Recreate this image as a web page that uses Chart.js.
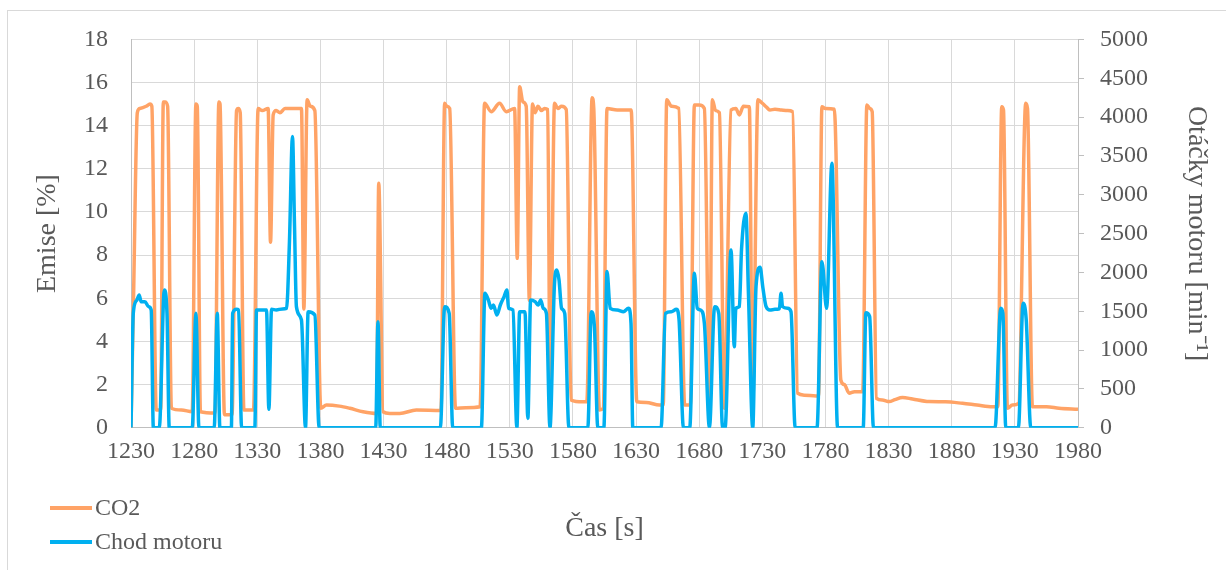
<!DOCTYPE html>
<html>
<head>
<meta charset="utf-8">
<script src="https://cdn.jsdelivr.net/npm/chart.js@4/dist/chart.umd.min.js"></script>
<style>
  body { margin: 0; background: #fff; }
  #wrap { position: relative; width: 1226px; height: 570px; }
  #frame { position: absolute; left: 7px; top: 10px; width: 1230px; height: 570px; border: 1px solid #d9d9d9; box-sizing: border-box; }
  canvas { position: absolute; left: 0; top: 0; }
</style>
</head>
<body>
<div id="wrap">
  <div id="frame"></div>
  <canvas id="chart" width="1226" height="570"></canvas>
</div>
<script>
// time axis labels [s]
const xTicks = [1230, 1280, 1330, 1380, 1430, 1480, 1530, 1580, 1630, 1680, 1730, 1780, 1830, 1880, 1930, 1980];

// CO2 emissions [%]
const co2Times = [
  1230, 1232, 1235, 1237, 1242, 1245, 1246.5, 1250, 1253.5, 1255.6, 1257, 1259, 1262, 1270, 1278.5,
  1281.4, 1282.5, 1285, 1296.5, 1299.6, 1300.5, 1304, 1310, 1313.6, 1315, 1316.5, 1319.4, 1327, 1330.7,
  1334, 1338.6, 1340.5, 1342.6, 1345, 1348, 1352, 1358, 1365, 1366.9, 1369.5, 1372, 1375.6, 1380.3,
  1384.8, 1395, 1403.3, 1413.8, 1424.5, 1426.2, 1429.6, 1435, 1442.8, 1456, 1475.5, 1478.4, 1480, 1482.4,
  1487, 1495, 1506.5, 1510, 1515.3, 1521.9, 1527.2, 1533.8, 1535.9, 1537.8, 1540.4, 1543, 1545.5, 1548,
  1550, 1552.3, 1555, 1557.5, 1560, 1562, 1565.4, 1568, 1571, 1574.7, 1578.6, 1587.8, 1591, 1595.2,
  1596.5, 1601, 1604, 1607, 1615, 1626.1, 1630.6, 1638, 1648.5, 1651.5, 1654.3, 1658, 1663.8, 1668.5,
  1673, 1676.2, 1680, 1684.1, 1688.3, 1690.4, 1693, 1696, 1700, 1705.2, 1709, 1711.8, 1715, 1719.7,
  1722.3, 1726.5, 1730, 1733, 1736, 1740, 1745, 1750, 1754, 1757.9, 1763.2, 1772.5, 1774.5, 1777.2,
  1780, 1787, 1792.2, 1794.9, 1798.8, 1803, 1809.5, 1812.8, 1815, 1817, 1820.4, 1825, 1830.5, 1835,
  1841, 1848.9, 1862, 1875, 1888.5, 1900, 1912.2, 1916.5, 1919.6, 1921, 1924.1, 1928, 1933, 1938.6,
  1940, 1943.9, 1955, 1965, 1980
];
const co2Values = [
  0, 6, 14.6, 14.8, 14.9, 15.0, 14.9, 0.82, 0.82, 15.1, 15.1, 14.9, 0.9, 0.82, 0.74,
  15.0, 14.9, 0.74, 0.68, 15.1, 15.0, 0.6, 0.6, 14.7, 14.8, 14.6, 0.82, 0.82, 14.8,
  14.7, 14.8, 8.6, 14.5, 14.7, 14.6, 14.8, 14.8, 14.8, 5.5, 15.2, 14.9, 14.7, 0.9,
  1.05, 1.0, 0.9, 0.74, 0.66, 11.33, 0.74, 0.66, 0.66, 0.82, 0.8, 15.04, 14.9, 14.8,
  0.9, 0.93, 0.97, 15.04, 14.65, 15.04, 14.65, 14.8, 7.85, 15.8, 15.1, 14.9, 5.9, 15.0,
  14.6, 14.9, 14.7, 14.8, 14.75, 1.5, 15.04, 14.8, 14.9, 14.75, 1.28, 1.2, 1.2, 15.3,
  14.8, 0.82, 0.9, 14.8, 14.73, 14.73, 1.2, 1.17, 1.05, 1.05, 15.2, 14.9, 14.8, 1.05,
  1.05, 14.96, 14.96, 14.8, 1.0, 15.2, 14.7, 14.6, 0.9, 14.73, 14.8, 14.5, 14.9, 14.88,
  1.0, 15.2, 15.04, 14.88, 14.73, 14.76, 14.73, 14.7, 14.65, 1.6, 1.51, 1.47, 1.47, 14.88,
  14.8, 14.76, 2.2, 2.0, 1.6, 1.67, 1.67, 14.96, 14.8, 14.65, 1.36, 1.28, 1.21, 1.3,
  1.4, 1.33, 1.21, 1.2, 1.13, 1.05, 0.97, 0.97, 14.88, 14.73, 0.9, 1.05, 1.13, 15.04,
  14.8, 0.97, 0.97, 0.9, 0.85
];

// engine speed [min-1]
const rpmTimes = [
  1230, 1231.8, 1234.5, 1236.5, 1238, 1241, 1244, 1246, 1247.7, 1252.4, 1256.4, 1258.5, 1260.3, 1278.5,
  1281.4, 1283.8, 1295.9, 1298.3, 1300.4, 1309.5, 1310.5, 1313.6, 1315.2, 1317.6, 1328.1, 1329.4, 1333,
  1337.3, 1339.2, 1341.3, 1345, 1350, 1353.2, 1355.5, 1357.9, 1359.5, 1361, 1365, 1368.2, 1370.3, 1375.6,
  1379, 1423.8, 1425.6, 1427.4, 1475, 1478.4, 1482, 1484.8, 1507.5, 1510.3, 1513, 1515.3, 1517, 1519.8,
  1522.5, 1525.5, 1527.7, 1529, 1532.5, 1535.6, 1537.8, 1542, 1544.3, 1546.5, 1550, 1552.5, 1554.5,
  1556.5, 1559, 1561.8, 1565.4, 1567.3, 1569, 1571, 1573.5, 1576.8, 1591.8, 1594.5, 1597, 1599.7, 1604.5,
  1607, 1609.5, 1615, 1620, 1624, 1626, 1627.4, 1649.8, 1653.3, 1658, 1662, 1664, 1667.5, 1672.5,
  1676.2, 1678.5, 1681, 1684.1, 1688.1, 1692.2, 1695.5, 1698.5, 1700.5, 1705.2, 1707.8, 1709, 1711.8,
  1713.5, 1717, 1719, 1722.4, 1725, 1728.2, 1730.5, 1733, 1736, 1740, 1743.5, 1744.8, 1746, 1750,
  1752.7, 1756, 1773.3, 1777.2, 1780.9, 1785.1, 1789.6, 1809.9, 1812, 1815, 1818, 1914.3, 1918.8,
  1920.5, 1922.8, 1932.8, 1936.5, 1939, 1942.6, 1980
];
const rpmValues = [
  0, 1473, 1640, 1709, 1623, 1623, 1558, 1516, 0, 0, 1773, 1473, 0, 0,
  1473, 0, 0, 1473, 0, 0, 1473, 1524, 1516, 0, 0, 1516, 1516,
  1516, 236, 1524, 1516, 1530, 1537, 2400, 3749, 2600, 1559, 1387, 0, 1494, 1451,
  0, 0, 1365, 0, 0, 1559, 1473, 0, 0, 1730, 1645, 1537, 1580, 1451,
  1580, 1688, 1773, 1537, 1516, 0, 1494, 1494, 120, 1645, 1623, 1580, 1645,
  1537, 1473, 0, 1859, 2031, 1902, 1537, 1473, 0, 0, 1494, 1301, 0, 0,
  2010, 1537, 1516, 1494, 1537, 1344, 0, 0, 1473, 1494, 1524, 1400, 0, 0,
  1988, 1537, 1516, 1344, 0, 1559, 1473, 0, 0, 2289, 1043, 1537, 1559,
  2289, 2761, 1730, 0, 1816, 2065, 1795, 1559, 1516, 1524, 1530, 1730, 1559, 1537,
  1494, 0, 0, 2138, 1537, 3405, 0, 0, 1480, 1430, 0, 0, 1537,
  1473, 0, 0, 1602, 1387, 0, 0
];

const co2Points = co2Times.map((t, i) => ({ x: t, y: co2Values[i] }));
const rpmPoints = rpmTimes.map((t, i) => ({ x: t, y: rpmValues[i] }));

const serif = 'Liberation Serif';
const tickFont = { family: serif, size: 24 };
const titleFont = { family: serif, size: 28 };
const textColor = '#595959';
const gridColor = '#d9d9d9';
const axisColor = '#bfbfbf';
const plain = value => String(value);

// legend stacked in the bottom-left corner, one entry per row
const sideLegend = {
  id: 'sideLegend',
  afterDraw(chart) {
    const ctx = chart.ctx;
    ctx.save();
    ctx.font = '24px "' + serif + '"';
    ctx.textBaseline = 'middle';
    ctx.lineWidth = 4;
    chart.data.datasets.forEach((ds, i) => {
      const y = 508 + i * 34;
      ctx.strokeStyle = ds.borderColor;
      ctx.beginPath();
      ctx.moveTo(50, y);
      ctx.lineTo(92, y);
      ctx.stroke();
      ctx.fillStyle = textColor;
      ctx.fillText(ds.label, 95, y + 1);
    });
    ctx.restore();
  }
};

new Chart(document.getElementById('chart'), {
  type: 'line',
  data: {
    datasets: [
      {
        label: 'CO2',
        data: co2Points,
        yAxisID: 'y',
        borderColor: '#ffa366',
        borderWidth: 3.5,
        pointRadius: 0,
        cubicInterpolationMode: 'monotone',
        order: 1
      },
      {
        label: 'Chod motoru',
        data: rpmPoints,
        yAxisID: 'y1',
        borderColor: '#00b0f0',
        borderWidth: 3.5,
        pointRadius: 0,
        cubicInterpolationMode: 'monotone',
        order: 0
      }
    ]
  },
  plugins: [sideLegend],
  options: {
    responsive: false,
    animation: false,
    devicePixelRatio: 1,
    layout: { padding: { top: 39.4, left: 0, right: 0, bottom: 0 } },
    plugins: { legend: { display: false }, tooltip: { enabled: false } },
    scales: {
      x: {
        type: 'linear',
        min: 1230,
        max: 1980,
        afterBuildTicks: scale => { scale.ticks = xTicks.map(v => ({ value: v })); },
        afterFit: scale => { scale.height = 142.3; },
        ticks: { font: tickFont, color: textColor, padding: 10, maxRotation: 0, callback: plain },
        grid: { color: gridColor, drawTicks: false },
        border: { color: axisColor, width: 1 },
        title: { display: true, text: 'Čas [s]', font: titleFont, color: textColor, padding: { bottom: 25 } }
      },
      y: {
        position: 'left',
        min: 0,
        max: 18,
        ticks: { stepSize: 2, font: tickFont, color: textColor, padding: 23, callback: plain },
        afterFit: scale => { scale.width = 131; },
        grid: { color: gridColor, drawTicks: false },
        border: { color: axisColor, width: 1 },
        title: { display: true, text: 'Emise [%]', font: titleFont, color: textColor, padding: { top: 31 } }
      },
      y1: {
        position: 'right',
        min: 0,
        max: 5000,
        ticks: { stepSize: 500, font: tickFont, color: textColor, padding: 16, callback: plain },
        afterFit: scale => { scale.width = 148; },
        grid: { drawOnChartArea: false, color: axisColor, drawTicks: true, tickLength: 6 },
        border: { color: axisColor, width: 1 },
        title: { display: true, text: 'Otáčky motoru [min⁻¹]', font: titleFont, color: textColor, padding: { top: 13 } }
      }
    }
  }
});
</script>
</body>
</html>
